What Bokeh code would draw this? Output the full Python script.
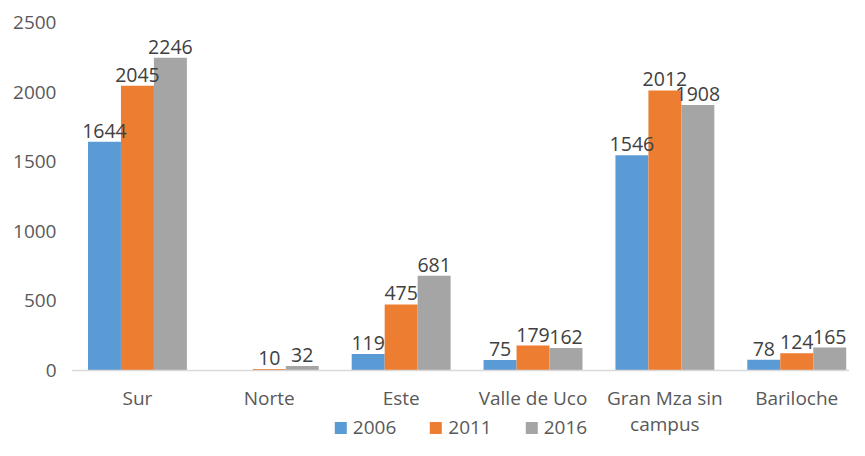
from bokeh.plotting import figure
from bokeh.models import ColumnDataSource, Range1d, FixedTicker, LabelSet, Legend, LegendItem
from bokeh.core.properties import value
from bokeh.embed import file_html
from bokeh.resources import INLINE

categories = ["Sur", "Norte", "Este", "Valle de Uco", "Gran Mza sin\ncampus", "Bariloche"]
series_names = ["2006", "2011", "2016"]
v2006 = [1644, None, 119, 75, 1546, 78]
v2011 = [2045, 10, 475, 179, 2012, 124]
v2016 = [2246, 32, 681, 162, 1908, 165]
colors = ["#5B9BD5", "#ED7D31", "#A5A5A5"]
y_ticks = [0, 500, 1000, 1500, 2000, 2500]

FONT = "Open Sans"
n = len(categories)
xs = list(range(n))

W, H = 849, 440
LEFT, TOP = 71, 22
frame_h = H - TOP                 # frame runs to the bottom of the canvas
axis_px = 348                     # pixels from value 0 to 2500
y_start = -(frame_h - axis_px) * 2500 / axis_px

p = figure(width=W, height=H, output_backend="svg", toolbar_location=None,
           x_range=Range1d(-0.5, 5.4), y_range=Range1d(y_start, 2500),
           min_border_left=LEFT, min_border_right=0, min_border_top=TOP, min_border_bottom=0)
p.outline_line_color = None
p.grid.visible = False
p.background_fill_color = "white"
p.border_fill_color = "white"

bw = 0.25
offsets = [-bw, 0, bw]
items = []
for vals, name, col, off in zip([v2006, v2011, v2016], series_names, colors, offsets):
    tops = [float("nan") if v is None else v for v in vals]
    src = ColumnDataSource(dict(x=[x + off for x in xs], top=tops))
    r = p.vbar(x="x", top="top", bottom=0, width=bw, source=src, fill_color=col, line_color=None)
    items.append(LegendItem(label=name, renderers=[r]))
    lx = [x + off for x, v in zip(xs, vals) if v is not None]
    ly = [v for v in vals if v is not None]
    lsrc = ColumnDataSource(dict(x=lx, y=ly, t=[str(v) for v in ly]))
    p.add_layout(LabelSet(x="x", y="y", text="t", source=lsrc, text_align="center",
                          text_baseline="alphabetic", y_offset=4, text_font=value(FONT),
                          text_font_size=value("19.5px"), text_color=value("#404040")))

# x axis, pinned at value 0
xa = p.xaxis[0]
xa.fixed_location = 0
xa.ticker = FixedTicker(ticks=xs)
xa.major_label_overrides = {i: c for i, c in enumerate(categories)}
xa.major_tick_line_color = None
xa.minor_tick_line_color = None
xa.axis_line_color = "#D9D9D9"
xa.axis_line_width = 1.5
xa.major_label_text_font = FONT
xa.major_label_text_font_size = "19px"
xa.major_label_text_color = "#595959"
xa.major_label_text_line_height = 1.0
xa.major_label_standoff = 8

ya = p.yaxis[0]
ya.ticker = FixedTicker(ticks=y_ticks)
ya.axis_line_color = None
ya.major_tick_line_color = None
ya.minor_tick_line_color = None
ya.major_label_text_font = FONT
ya.major_label_text_font_size = "19px"
ya.major_label_text_color = "#595959"
ya.major_label_standoff = 9

legend = Legend(items=items, orientation="horizontal", location="bottom_center",
                label_text_font=FONT, label_text_font_size="19px", label_text_color="#595959",
                glyph_width=15, glyph_height=15, label_standoff=5, spacing=32, label_height=18,
                padding=0, margin=0, border_line_color=None, background_fill_alpha=0)
p.add_layout(legend, "center")

open("out.html", "w").write(file_html(p, INLINE))
